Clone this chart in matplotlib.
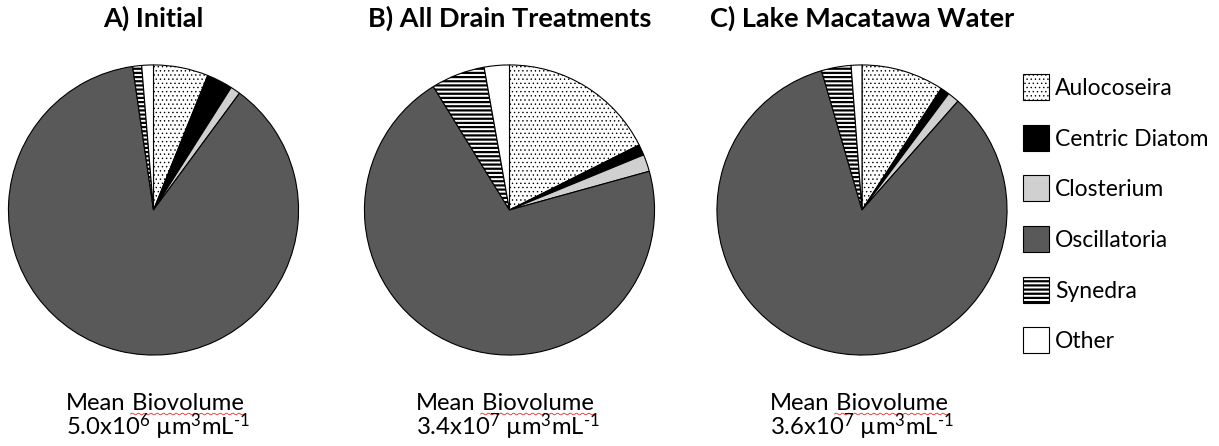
import numpy as np
import matplotlib
matplotlib.use("Agg")
import matplotlib.pyplot as plt
from matplotlib.patches import Rectangle
from matplotlib.lines import Line2D

plt.rcParams["font.family"] = ["Lato", "DejaVu Sans"]
plt.rcParams["mathtext.fontset"] = "custom"
plt.rcParams["mathtext.rm"] = "Lato"
plt.rcParams["mathtext.it"] = "Lato"
plt.rcParams["hatch.linewidth"] = 0.6

# Taxa in plotting order (clockwise from 12 o'clock)
taxa = ["Aulocoseira", "Centric Diatom", "Closterium", "Oscillatoria", "Synedra", "Other"]

# Percent of total biovolume per taxon
initial = [6.1, 2.9, 1.1, 87.6, 1.0, 1.3]
drain = [17.6, 1.2, 1.9, 70.5, 6.0, 2.8]
lake = [9.2, 1.0, 1.3, 84.0, 3.3, 1.2]

titles = ["A) Initial", "B) All Drain Treatments", "C) Lake Macatawa Water"]
biovolume = ["5.0x10$^{\\mathrm{6}}$ µm$^{\\mathrm{3}}$mL$^{\\mathrm{‐1}}$",
             "3.4x10$^{\\mathrm{7}}$ µm$^{\\mathrm{3}}$mL$^{\\mathrm{‐1}}$",
             "3.6x10$^{\\mathrm{7}}$ µm$^{\\mathrm{3}}$mL$^{\\mathrm{‐1}}$"]

colors = ["white", "black", "#d0d0d0", "#595959", "white", "white"]
hatches = ["....", "", "", "", "----", ""]
hatch_lw = [0.5, 0.6, 0.6, 0.6, 1.6, 0.6]

W, H = 1219, 446
fig = plt.figure(figsize=(W / 100, H / 100), dpi=100)

# pie centres and radius in pixels
centres = [153.5, 509.5, 862]
cy = 210
r = 146.5
text_x = [66, 416, 770]


def px(x, y):
    return x / W, 1 - y / H


def style_hatch(patch, h, lw):
    patch.set_hatch(h)
    if hasattr(patch, "set_hatch_linewidth"):
        patch.set_hatch_linewidth(lw)


squiggle_targets = []
for i, data in enumerate([initial, drain, lake]):
    ax = fig.add_axes([(centres[i] - r) / W, (H - cy - r) / H, 2 * r / W, 2 * r / H])
    wedges, _ = ax.pie(data, colors=colors, startangle=90, counterclock=False,
                       radius=1, wedgeprops=dict(edgecolor="black", linewidth=0.8))
    for w, h, lw in zip(wedges, hatches, hatch_lw):
        style_hatch(w, h, lw)
    ax.set_xlim(-1.01, 1.01)
    ax.set_ylim(-1.01, 1.01)
    ax.set_aspect("equal")
    ax.axis("off")

    fig.text(*px(centres[i], 27), titles[i], ha="center", va="baseline",
             fontsize=19.5, fontweight="bold")
    t_mean = fig.text(*px(text_x[i], 410), "Mean", ha="left", va="baseline", fontsize=17.2)
    t_bio = fig.text(*px(text_x[i], 410), " Biovolume", ha="left", va="baseline", fontsize=17.2)
    squiggle_targets.append((t_mean, t_bio))
    fig.text(*px(text_x[i], 435), biovolume[i], ha="left", va="baseline", fontsize=17.2)

# legend
row_y = [87, 138, 188, 239, 290, 340]
for name, c, h, lw, y in zip(taxa, colors, hatches, hatch_lw, row_y):
    x0, y0 = px(1023, y + 13)
    rect = Rectangle((x0, y0), 26 / W, 26 / H, transform=fig.transFigure,
                     facecolor=c, edgecolor="black", linewidth=0.8)
    style_hatch(rect, h, lw)
    fig.patches.append(rect)
    fig.text(*px(1055, y + 8), name, ha="left", va="baseline", fontsize=16.5)

# put "Biovolume" right after "Mean" and add the spell-check squiggle under it
fig.canvas.draw()
renderer = fig.canvas.get_renderer()
for t_mean, t_bio in squiggle_targets:
    bb = t_mean.get_window_extent(renderer)
    t_bio.set_x(bb.x1 / W)
    bb2 = t_bio.get_window_extent(renderer)
    xs = np.linspace(bb2.x0 + 5, bb2.x1, 200)
    ys = (H - 414) + 0.8 * np.sin((xs - xs[0]) / 1.0)
    fig.lines.append(Line2D(xs / W, ys / H, transform=fig.transFigure,
                            color="#e03030", linewidth=0.6))

fig.savefig("out.png", dpi=100)
